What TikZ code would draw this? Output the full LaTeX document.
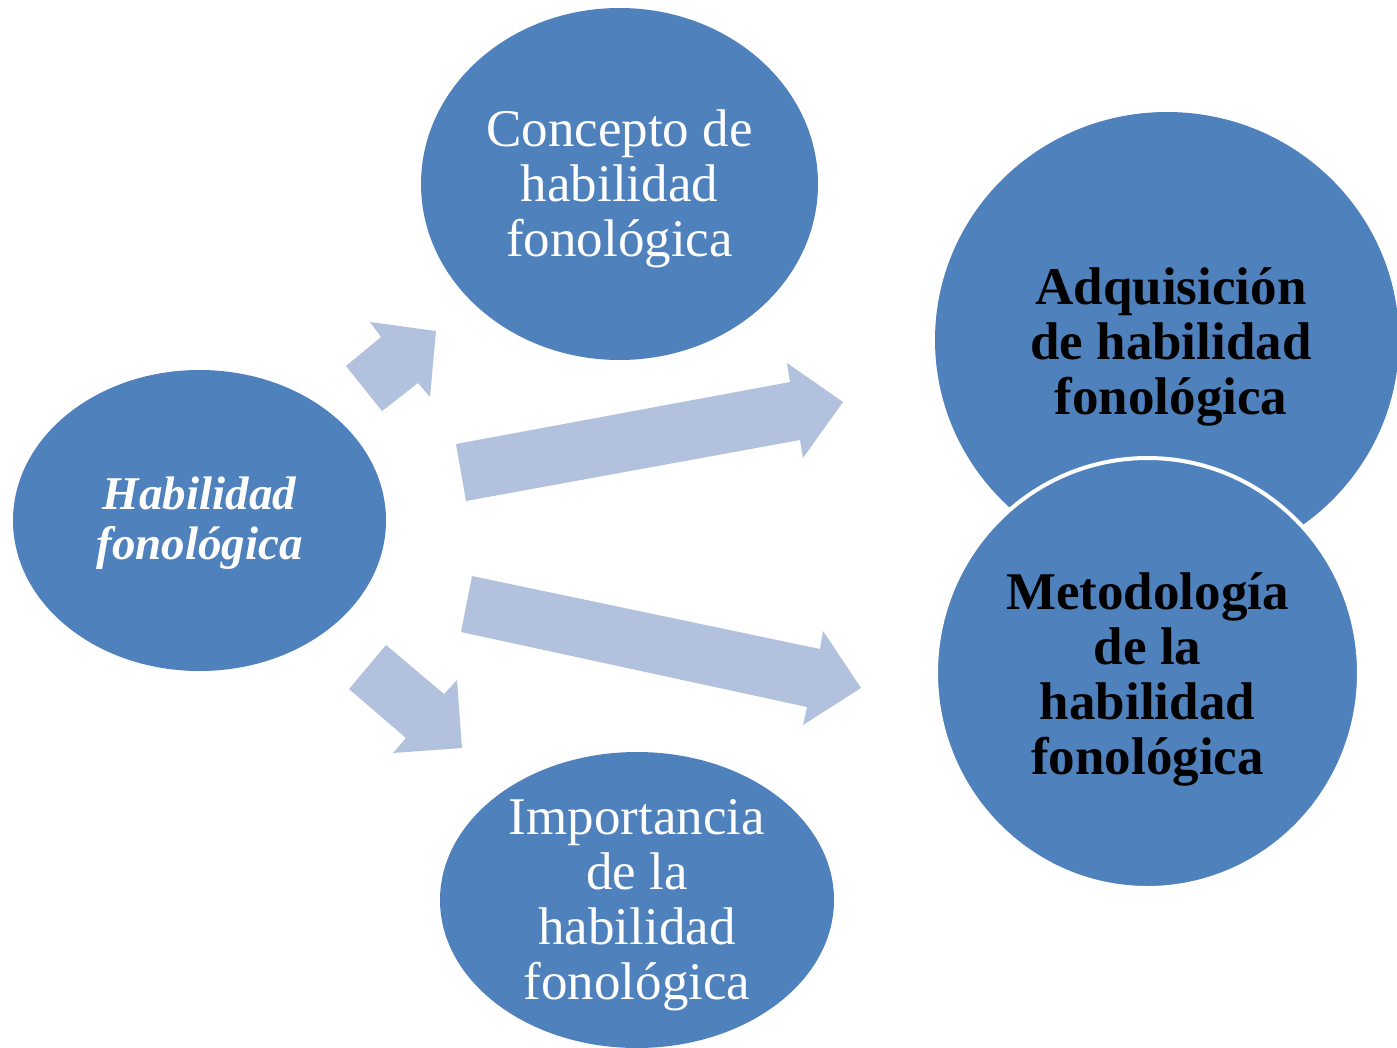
\documentclass[tikz,border=0pt]{standalone}
\usepackage{fontspec}
\setmainfont{Liberation Serif}
\usetikzlibrary{shapes.geometric}
\definecolor{blobblue}{HTML}{4F81BD}
\definecolor{arrowblue}{HTML}{B2C1DD}
\tikzset{
  blob/.style={ellipse, fill=blobblue, draw=none, inner sep=0pt},
  blockarrow/.style={fill=arrowblue, draw=none},
  txtreg/.style={text=white, align=center, yshift=-5pt, font=\fontsize{53}{55}\selectfont},
  txtbold/.style={text=black, align=center, yshift=-6pt, font=\fontsize{53}{55}\selectfont\bfseries},
  txtbi/.style={text=white, align=center, yshift=-3pt, font=\fontsize{47}{50}\selectfont\bfseries\itshape},
}
\begin{document}
\begin{tikzpicture}[x=1pt, y=-1pt]
\useasboundingbox (0,0) rectangle (1397,1047);
\clip (0,0) rectangle (1397,1047);
% block arrows
\fill[blockarrow] (346,366) -- (381,337) -- (370,322) -- (436,331) -- (430,397) -- (418,383) -- (382,411) -- cycle;
\fill[blockarrow] (456,444) -- (790,382) -- (787,363) -- (843,402) -- (803,458) -- (800,440) -- (466,501) -- cycle;
\fill[blockarrow] (472,576) -- (820,649) -- (823,631) -- (861,688) -- (803,725) -- (807,707) -- (461,632) -- cycle;
\fill[blockarrow] (386,645) -- (444,694) -- (457,680) -- (462,748) -- (393,753) -- (406,738) -- (349,689) -- cycle;
% ellipses
\node[blob, minimum width=373pt, minimum height=301pt] (hab) at (199.5,520.5) {};
\node[blob, minimum width=397pt, minimum height=352pt] (con) at (619.5,184) {};
\node[blob, minimum width=394pt, minimum height=296pt] (imp) at (637,900) {};
\node[blob, minimum width=464pt, minimum height=456pt] (adq) at (1167,340) {};
\node[blob, draw=white, line width=4pt, minimum width=423pt, minimum height=430pt] (met) at (1147.5,673) {};
% texts
\node[txtbi] at (hab) {Habilidad\\fonológica};
\node[txtreg] at (con) {Concepto de\\habilidad\\fonológica};
\node[txtreg] at (imp) {Importancia\\de la\\habilidad\\fonológica};
\node[txtbold] at (1171,341) {Adquisición\\de habilidad\\fonológica};
\node[txtbold] at (met) {Metodología\\de la\\habilidad\\fonológica};
\end{tikzpicture}
\end{document}
